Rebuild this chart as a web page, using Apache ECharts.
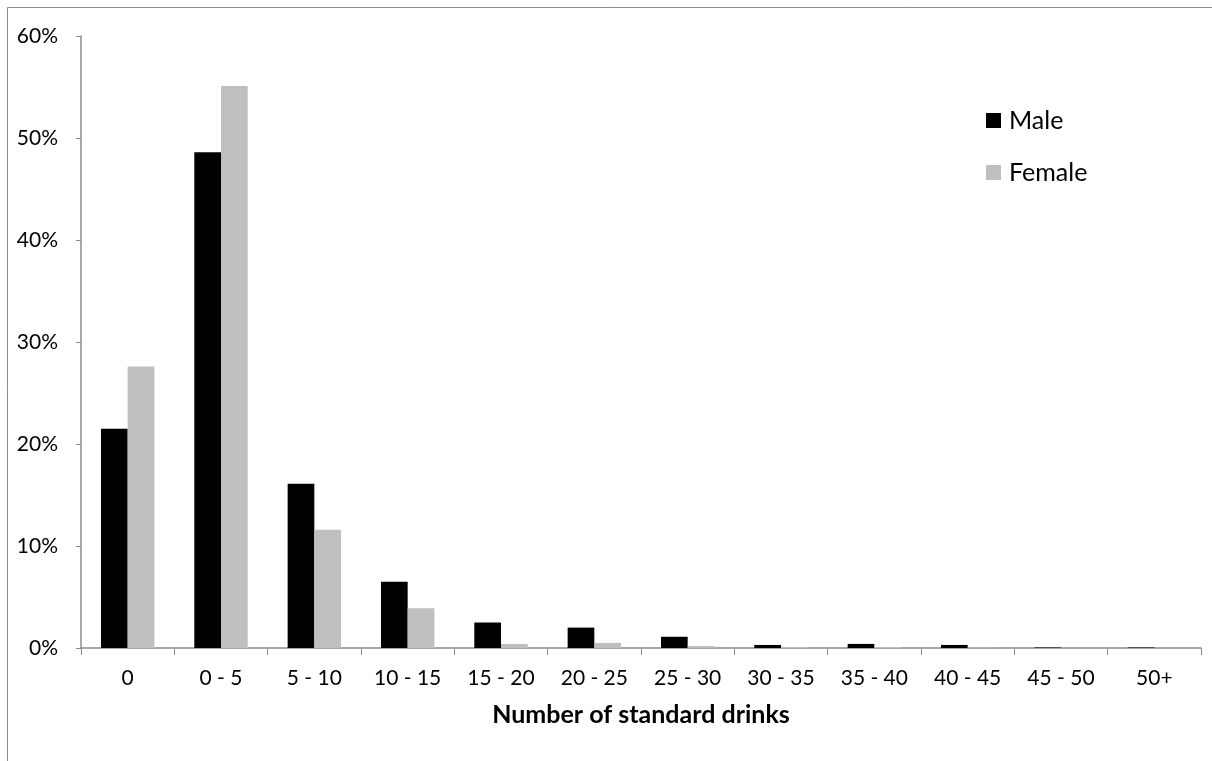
<!DOCTYPE html>
<html>
<head>
<meta charset="utf-8">
<script src="https://cdn.jsdelivr.net/npm/echarts@6/dist/echarts.min.js"></script>
<style>html,body{margin:0;padding:0;background:#fff}#c{width:1212px;height:761px}</style>
</head>
<body>
<div id="c"></div>
<script>
const categories = ['0','0 - 5','5 - 10','10 - 15','15 - 20','20 - 25','25 - 30','30 - 35','35 - 40','40 - 45','45 - 50','50+'];
const maleValues = [21.5, 48.6, 16.1, 6.5, 2.5, 2.0, 1.1, 0.3, 0.4, 0.3, 0.05, 0.05];
const femaleValues = [27.6, 55.1, 11.6, 3.9, 0.4, 0.5, 0.2, 0.1, 0.1, 0.05, 0.0, 0.0];
const yTicks = [0, 10, 20, 30, 40, 50, 60];

const font = 'Lato, "Noto Sans", sans-serif';
const chart = echarts.init(document.getElementById('c'), null, {renderer: 'canvas'});
chart.setOption({
  animation: false,
  backgroundColor: '#fff',
  graphic: [{
    type: 'rect', silent: true,
    shape: {x: 7.5, y: 7.5, width: 1400, height: 1000},
    style: {fill: 'none', stroke: '#8c8c8c', lineWidth: 1}
  }],
  grid: {left: 81, right: 11, top: 36, bottom: 113, containLabel: false},
  legend: {
    data: ['Male', 'Female'],
    orient: 'vertical',
    left: 981, top: 103,
    itemWidth: 15, itemHeight: 15, itemGap: 27,
    icon: 'rect',
    textStyle: {fontFamily: font, fontSize: 25, color: '#000', padding: [0, 0, 0, 3]}
  },
  xAxis: {
    type: 'category',
    data: categories,
    boundaryGap: true,
    name: 'Number of standard drinks',
    nameLocation: 'middle',
    nameGap: 54,
    nameTextStyle: {fontFamily: font, fontSize: 25, fontWeight: 'bold', color: '#000'},
    axisLine: {lineStyle: {color: '#8c8c8c', width: 1.5}},
    axisTick: {show: true, alignWithLabel: false, length: 7, lineStyle: {color: '#8c8c8c'}},
    axisLabel: {fontFamily: font, fontSize: 21, color: '#000', margin: 20, interval: 0}
  },
  yAxis: {
    type: 'value',
    min: yTicks[0], max: yTicks[yTicks.length - 1], interval: 10,
    axisLine: {show: true, lineStyle: {color: '#8c8c8c', width: 1.5}},
    axisTick: {show: true, length: 5, lineStyle: {color: '#8c8c8c'}},
    splitLine: {show: false},
    axisLabel: {fontFamily: font, fontSize: 21, color: '#000', margin: 23, formatter: v => v + '%'}
  },
  series: [
    {name: 'Male', type: 'bar', data: maleValues, barWidth: '28.6%', barGap: '0%', itemStyle: {color: '#000000'}},
    {name: 'Female', type: 'bar', data: femaleValues, barWidth: '28.6%', barGap: '0%', itemStyle: {color: '#bfbfbf'}}
  ]
});
</script>
</body>
</html>
